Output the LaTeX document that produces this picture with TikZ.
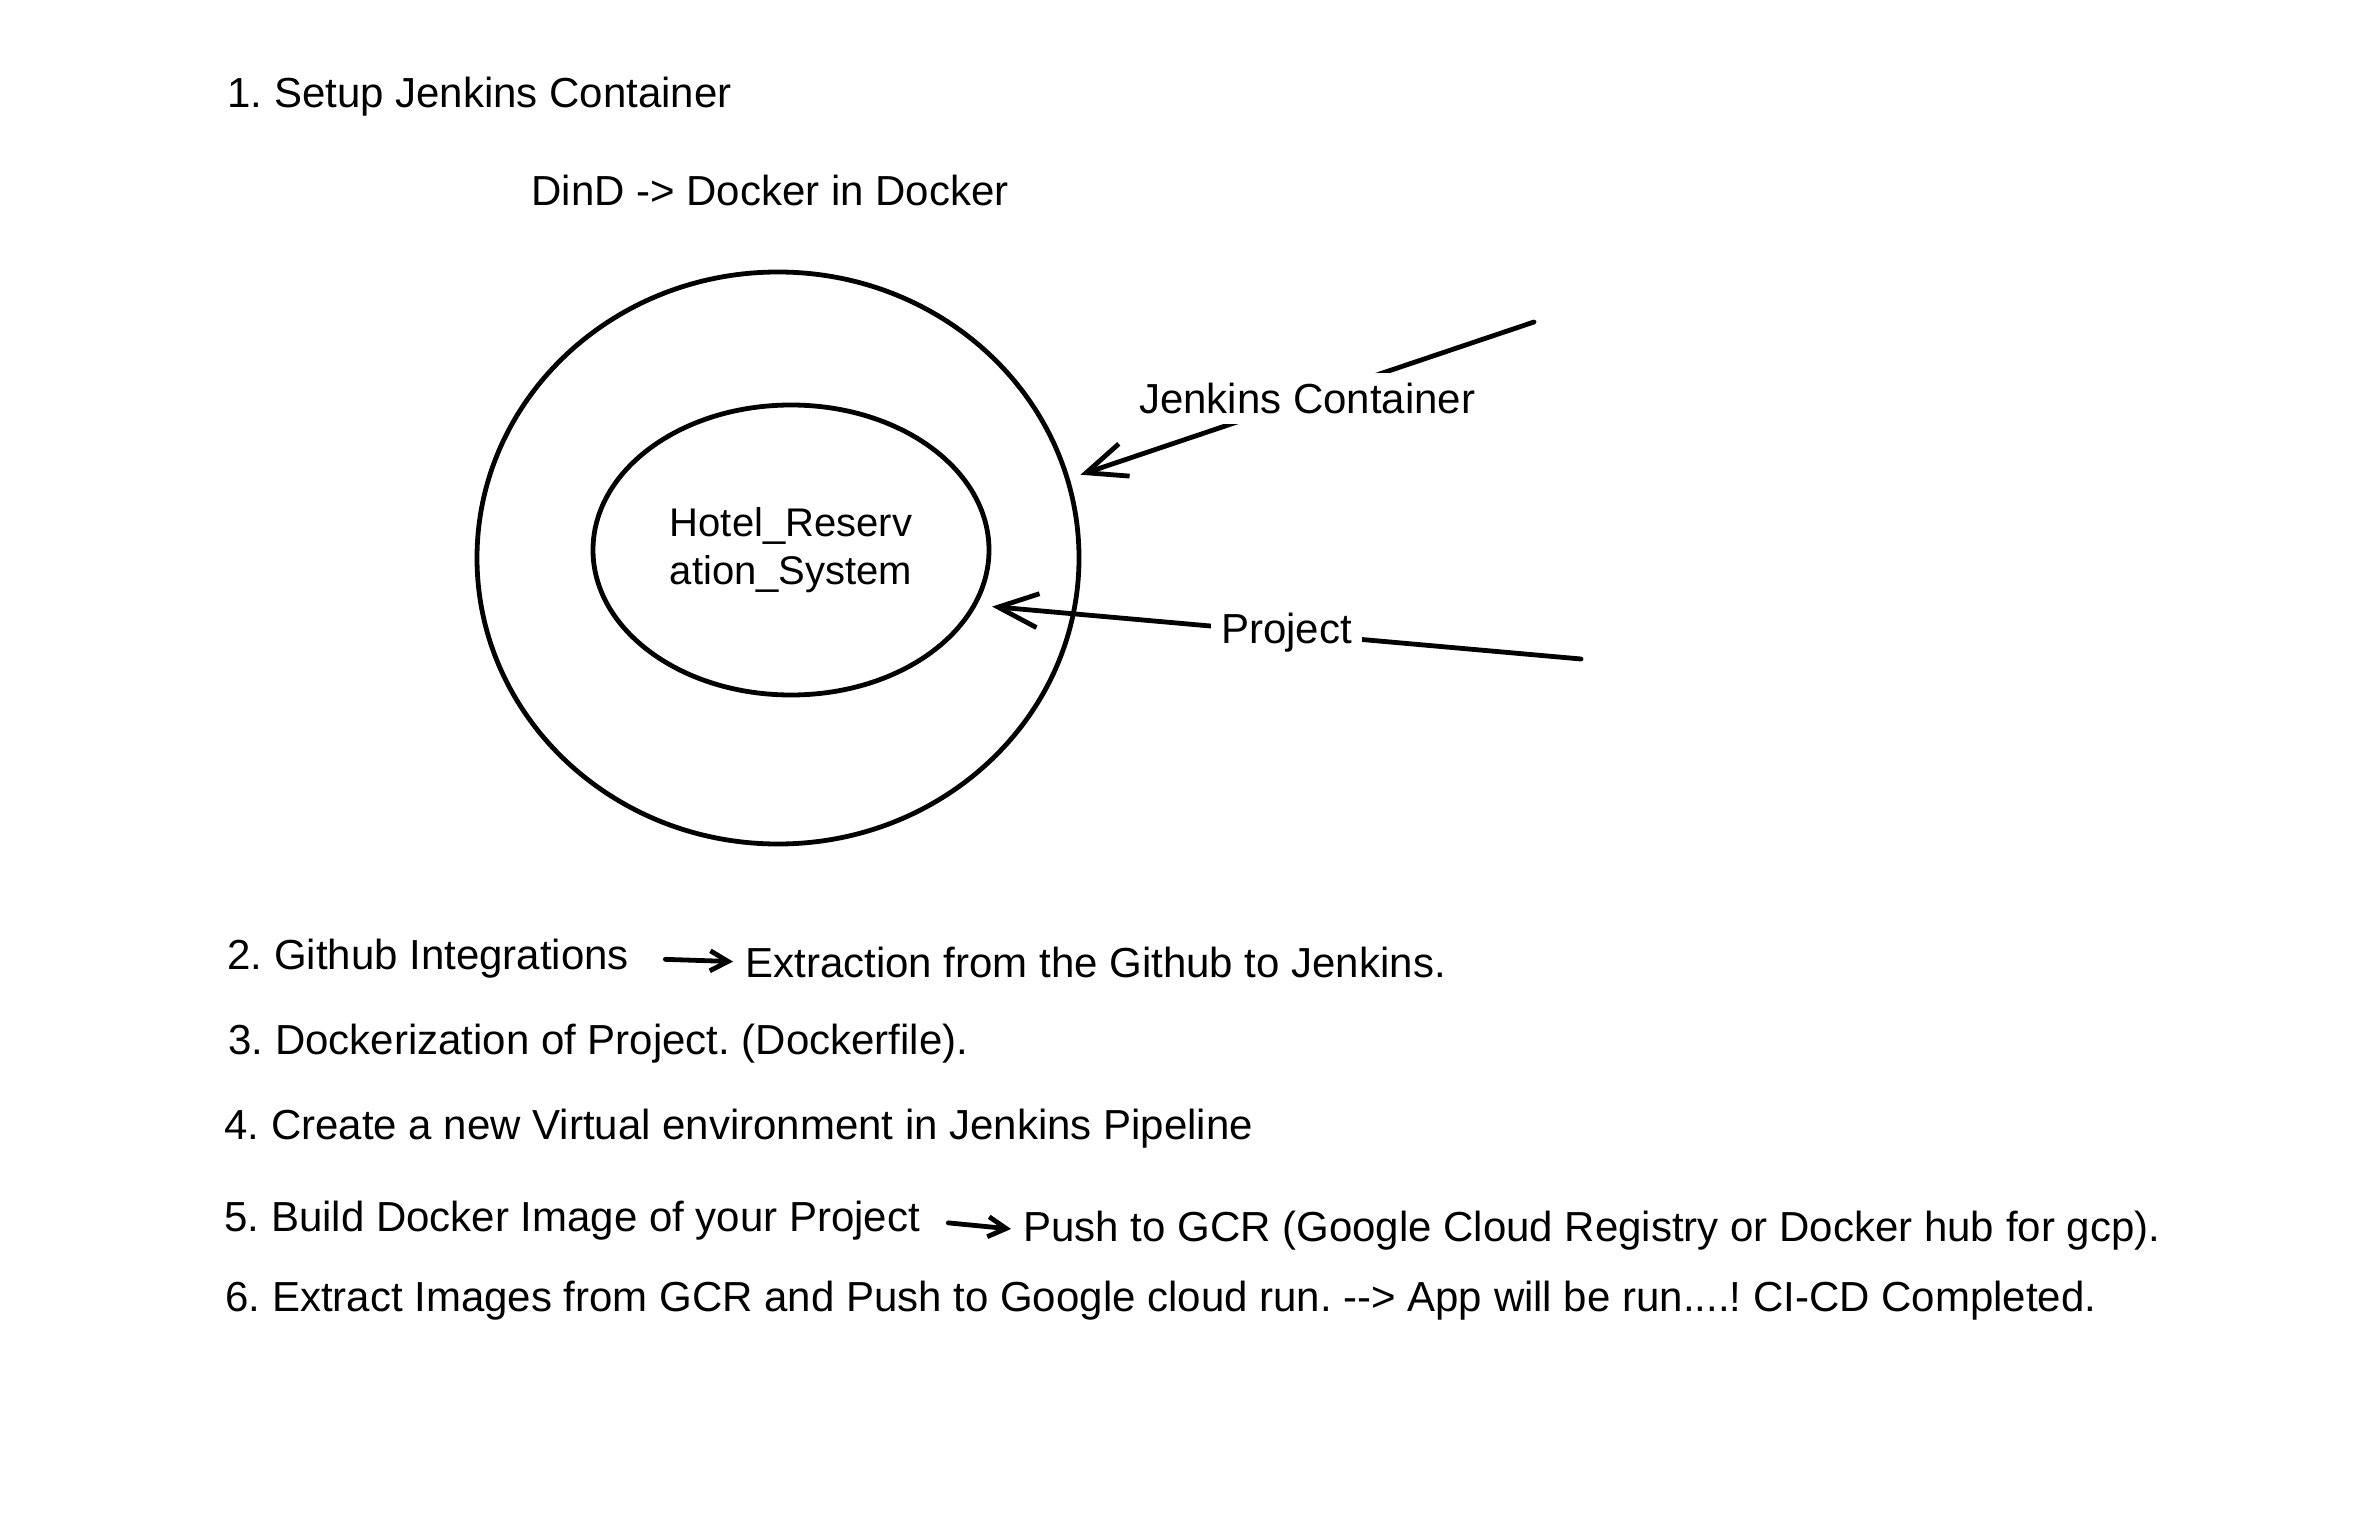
\documentclass[tikz,border=0pt]{standalone}
\usepackage{fontspec}
\setmainfont{Liberation Sans}
\usetikzlibrary{shapes.geometric,arrows.meta}
\frenchspacing
\begin{document}
\begin{tikzpicture}[x=0.5pt,y=-0.5pt,
  txt/.style={anchor=base west,inner sep=0pt,font=\fontsize{21}{25}\selectfont},
  lbl/.style={fill=white,inner sep=5pt,font=\fontsize{21}{25}\selectfont},
  ring/.style={draw,ellipse,line width=2.4pt,inner sep=0pt},
  bigarrow/.style={line width=2.4pt,line cap=round,-{Straight Barb[length=20pt,width=17pt]}},
  smallarrow/.style={line width=2.4pt,line cap=round,-{Straight Barb[length=9pt,width=10pt]}}
]
\useasboundingbox[fill=white] (0,0) rectangle (2370,1534);

% titles
\node[txt] (t1) at (227,108) {1. Setup Jenkins Container};
\node[txt] (dind) at (531,206) {DinD -> Docker in Docker};

% containers
\node[ring,minimum width=301pt,minimum height=286pt] (outer) at (778,558) {};
\node[ring,minimum width=198pt,minimum height=145pt,align=center,
      font=\fontsize{20}{24}\selectfont] (inner) at (791,550) {Hotel\_Reserv\\ation\_System};

% labelled arrows
\coordinate (jstart) at (1534,322);
\coordinate (pstart) at (1581,659);
\draw[bigarrow] (jstart) -- node[lbl] (jlbl) {Jenkins Container} ([xshift=6pt]outer.16);
\draw[bigarrow] (pstart) -- node[lbl] (plbl) {Project} ([xshift=8pt]inner.-17);

% steps
\node[txt] (s2a) at (227,969) {2. Github Integrations};
\node[txt] (s2b) at (745,977) {Extraction from the Github to Jenkins.};
\draw[smallarrow,shorten <=18pt,shorten >=6pt] (s2a.east) -- (s2b.west);

\node[txt] (s3) at (228,1054) {3. Dockerization of Project. (Dockerfile).};
\node[txt] (s4) at (224,1139) {4. Create a new Virtual environment in Jenkins Pipeline};

\node[txt] (s5a) at (224,1231) {5. Build Docker Image of your Project};
\node[txt] (s5b) at (1023,1241) {Push to GCR (Google Cloud Registry or Docker hub for gcp).};
\draw[smallarrow,shorten <=14pt,shorten >=6pt] (s5a.east) -- (s5b.west);

\node[txt] (s6) at (225,1311) {6. Extract Images from GCR and Push to Google cloud run. -\kern0pt-> App will be run....! CI-CD Completed.};
\end{tikzpicture}
\end{document}
